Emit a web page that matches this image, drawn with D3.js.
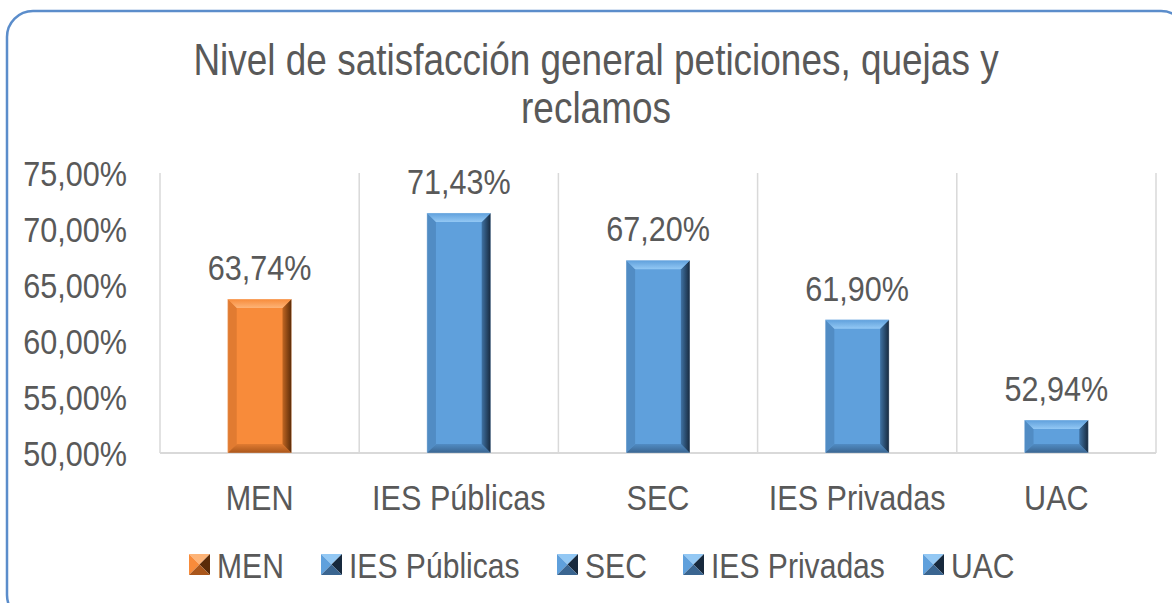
<!DOCTYPE html>
<html>
<head>
<meta charset="utf-8">
<script src="https://cdn.jsdelivr.net/npm/d3@7"></script>
<style>
  body { margin: 0; background: #fff; }
  svg text { font-family: "Liberation Sans", Arial, sans-serif; fill: #595959; }
</style>
</head>
<body>
<svg id="chart" width="1172" height="603"></svg>
<script>
var categorias = ["MEN", "IES Públicas", "SEC", "IES Privadas", "UAC"];
var valores = [63.74, 71.43, 67.20, 61.90, 52.94];
var etiquetas = ["63,74%", "71,43%", "67,20%", "61,90%", "52,94%"];
var yTicks = [50, 55, 60, 65, 70, 75];
var yTickLabels = ["50,00%", "55,00%", "60,00%", "65,00%", "70,00%", "75,00%"];
var tipoColor = ["naranja", "azul", "azul", "azul", "azul"];

var colores = {
    naranja: { face: "#F88B3A", top: "#FDB478", left: "#E17B31", right1: "#C06622", right2: "#5A2B08", bottom: "#A9561B" },
    azul: { face: "#5FA0DC", top: "#93C8F4", left: "#518CC4", right1: "#3F72A3", right2: "#17293D", bottom: "#3A6590" }
};

var svg = d3.select("#chart");
var defs = svg.append("defs");

Object.keys(colores).forEach(function(k) {
    var c = colores[k];
    var gr = defs.append("linearGradient").attr("id", "right-" + k).attr("x1", 0).attr("x2", 1).attr("y1", 0).attr("y2", 0);
    gr.append("stop").attr("offset", "0%").attr("stop-color", c.right1);
    gr.append("stop").attr("offset", "100%").attr("stop-color", c.right2);
    var gt = defs.append("linearGradient").attr("id", "top-" + k).attr("x1", 0).attr("x2", 0).attr("y1", 0).attr("y2", 1);
    gt.append("stop").attr("offset", "0%").attr("stop-color", c.face);
    gt.append("stop").attr("offset", "100%").attr("stop-color", c.top);
    var gb = defs.append("linearGradient").attr("id", "bottom-" + k).attr("x1", 0).attr("x2", 0).attr("y1", 0).attr("y2", 1);
    gb.append("stop").attr("offset", "0%").attr("stop-color", c.left);
    gb.append("stop").attr("offset", "100%").attr("stop-color", c.bottom);
});

// texto angosto (la fuente original es condensada)
function texto(parent, x, y, txt, size, anchor, sx) {
    return parent.append("text")
        .attr("transform", "translate(" + x + "," + y + ") scale(" + (sx || 0.85) + ",1)")
        .attr("text-anchor", anchor || "start")
        .style("font-size", size + "px")
        .text(txt);
}

// marco redondeado
svg.append("rect")
    .attr("x", 7).attr("y", 11)
    .attr("width", 1180).attr("height", 610)
    .attr("rx", 26).attr("ry", 26)
    .attr("fill", "#fff")
    .attr("stroke", "#5B8DCB")
    .attr("stroke-width", 2.5);

// titulo
texto(svg, 596, 75, "Nivel de satisfacción general peticiones, quejas y", 44, "middle", 0.84);
texto(svg, 596, 123, "reclamos", 44, "middle", 0.84);

var pLeft = 160, pRight = 1156, pTop = 173, pBottom = 453;

var x = d3.scaleBand().domain(categorias).range([pLeft, pRight]);
var xBar = d3.scaleBand().domain(categorias).range([pLeft, pRight]).paddingInner(0.68).paddingOuter(0.34);
var y = d3.scaleLinear().domain([50, 75]).range([pBottom, pTop]);

// lineas verticales de separacion
var bordes = categorias.map(function(c) { return x(c); }).concat([pRight]);
svg.selectAll("line.grid").data(bordes).enter()
    .append("line")
    .attr("class", "grid")
    .attr("x1", d => d).attr("x2", d => d)
    .attr("y1", pTop).attr("y2", pBottom)
    .attr("stroke", "#D9D9D9").attr("stroke-width", 1.5);

// eje x
svg.append("line")
    .attr("x1", pLeft).attr("x2", pRight)
    .attr("y1", pBottom).attr("y2", pBottom)
    .attr("stroke", "#D9D9D9").attr("stroke-width", 2);

// etiquetas eje y
yTicks.forEach(function(t, i) {
    texto(svg, 127, y(t) + 13, yTickLabels[i], 36, "end");
});

// etiquetas categorias
categorias.forEach(function(c) {
    texto(svg, x(c) + x.bandwidth() / 2, 510, c, 36, "middle");
});

function barra(g, x0, x1, y0, y1, k) {
    var c = colores[k];
    var b = Math.min(9, (y1 - y0) / 2 - 1);
    g.append("rect").attr("x", x0).attr("y", y0).attr("width", x1 - x0).attr("height", y1 - y0).attr("fill", c.face);
    var poly = function(pts, fill) {
        g.append("polygon").attr("points", pts.map(p => p.join(",")).join(" ")).attr("fill", fill);
    };
    poly([[x0, y0], [x0 + b, y0 + b], [x0 + b, y1 - b], [x0, y1]], c.left);
    poly([[x0, y1], [x1, y1], [x1 - b, y1 - b], [x0 + b, y1 - b]], "url(#bottom-" + k + ")");
    poly([[x1, y0], [x1, y1], [x1 - b, y1 - b], [x1 - b, y0 + b]], "url(#right-" + k + ")");
    poly([[x0, y0], [x1, y0], [x1 - b, y0 + b], [x0 + b, y0 + b]], "url(#top-" + k + ")");
    g.append("rect").attr("x", x0).attr("y", y0).attr("width", x1 - x0).attr("height", y1 - y0)
        .attr("fill", "none").attr("stroke", "rgba(255,255,255,0.35)").attr("stroke-width", 0.8);
}

var barras = svg.append("g");
categorias.forEach(function(c, i) {
    var x0 = xBar(c), x1 = xBar(c) + xBar.bandwidth();
    barra(barras.append("g"), x0, x1, y(valores[i]), pBottom, tipoColor[i]);
});

// etiquetas de datos
valores.forEach(function(v, i) {
    texto(svg, x(categorias[i]) + x.bandwidth() / 2, y(v) - 19, etiquetas[i], 36, "middle");
});

// leyenda
var leyendaX = [189, 321, 557, 683, 923];
function marcador(g, x0, y0, s, k) {
    var c = colores[k];
    var cx = x0 + s / 2, cy = y0 + s / 2, x1 = x0 + s, y1 = y0 + s;
    var poly = function(pts, fill) {
        g.append("polygon").attr("points", pts.map(p => p.join(",")).join(" ")).attr("fill", fill);
    };
    poly([[x0, y0], [x1, y0], [cx, cy]], c.top);
    poly([[x0, y0], [cx, cy], [x0, y1]], c.face);
    poly([[x1, y0], [x1, y1], [cx, cy]], c.right2);
    poly([[x0, y1], [x1, y1], [cx, cy]], c.bottom);
}
var leyenda = svg.append("g");
categorias.forEach(function(c, i) {
    marcador(leyenda.append("g"), leyendaX[i], 554, 21, tipoColor[i]);
    texto(leyenda, leyendaX[i] + 28, 578, c, 35, "start", 0.86);
});
</script>
</body>
</html>
